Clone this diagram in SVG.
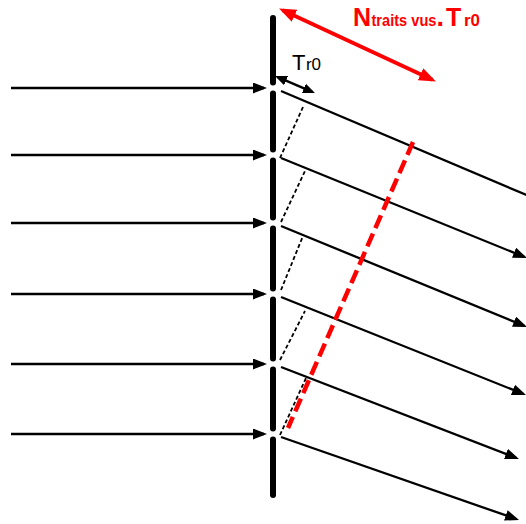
<svg xmlns="http://www.w3.org/2000/svg" width="526" height="524" viewBox="0 0 526 524">
<style>
.bar{stroke:#000;stroke-width:6;stroke-linecap:round;fill:none}
.ray{stroke:#000;stroke-width:2.3;fill:none;marker-end:url(#ah)}
.dash{stroke:#000;stroke-width:1.8;stroke-dasharray:4 2.5;fill:none}
.red{font-family:"Liberation Sans",Arial,sans-serif;font-weight:bold;fill:#ff0000}
.blk{font-family:"Liberation Sans",Arial,sans-serif;fill:#000}
</style>
<defs>
<marker id="ah" markerUnits="userSpaceOnUse" markerWidth="15" markerHeight="11" refX="11" refY="5.5" orient="auto">
<path d="M0,0 L14,5.5 L0,11 z" fill="#000"/>
</marker>
<marker id="ahs" markerUnits="userSpaceOnUse" markerWidth="13" markerHeight="10" refX="9" refY="5" orient="auto-start-reverse">
<path d="M0,0 L12,5 L0,10 z" fill="#000"/>
</marker>
<marker id="ahr" markerUnits="userSpaceOnUse" markerWidth="18" markerHeight="14" refX="13" refY="6.5" orient="auto-start-reverse">
<path d="M0,0 L17,6.5 L0,13 z" fill="#ff0000"/>
</marker>
</defs>
<rect width="526" height="524" fill="#fff"/>

<g id="screen">
<line class="bar" x1="273" y1="18" x2="273" y2="82.5"/>
<line class="bar" x1="273" y1="93.5" x2="273" y2="149.5"/>
<line class="bar" x1="273" y1="160.5" x2="273" y2="217.5"/>
<line class="bar" x1="273" y1="228.5" x2="273" y2="288.5"/>
<line class="bar" x1="273" y1="299.5" x2="273" y2="358.5"/>
<line class="bar" x1="273" y1="369.5" x2="273" y2="428.5"/>
<line class="bar" x1="273" y1="439.5" x2="273" y2="495"/>
</g>

<g id="connectors">
<line class="ray" x1="11" y1="88" x2="264" y2="88"/>
<line class="ray" x1="11" y1="155" x2="264" y2="155"/>
<line class="ray" x1="11" y1="223" x2="264" y2="223"/>
<line class="ray" x1="11" y1="294" x2="264" y2="294"/>
<line class="ray" x1="11" y1="364" x2="264" y2="364"/>
<line class="ray" x1="11" y1="434" x2="264" y2="434"/>

<line class="ray" x1="281" y1="91" x2="542" y2="201.6"/>
<line class="ray" x1="281" y1="158" x2="524.2" y2="256.9"/>
<line class="ray" x1="281" y1="226" x2="524.2" y2="325.9"/>
<line class="ray" x1="281" y1="297" x2="523.2" y2="393.9"/>
<line class="ray" x1="281" y1="367" x2="516.2" y2="457.9"/>
<line class="ray" x1="281" y1="437" x2="516.2" y2="519"/>

<line class="dash" x1="280" y1="158" x2="303" y2="107"/>
<line class="dash" x1="281" y1="222" x2="305" y2="171"/>
<line class="dash" x1="281" y1="290" x2="303" y2="236"/>
<line class="dash" x1="280" y1="360" x2="305" y2="311"/>
<line class="dash" x1="280" y1="435" x2="306" y2="378"/>

<line x1="413" y1="142" x2="288" y2="428" stroke="#ff0000" stroke-width="4.5" stroke-dasharray="14 6"/>

<line x1="282.7" y1="10.3" x2="432.3" y2="79.7" stroke="#ff0000" stroke-width="4" marker-start="url(#ahr)" marker-end="url(#ahr)"/>
<line x1="277.8" y1="77.2" x2="312.2" y2="91.8" stroke="#000" stroke-width="2.5" marker-start="url(#ahs)" marker-end="url(#ahs)"/>
</g>

<g id="label-tr0">
<text class="blk" x="292" y="70" font-size="22">T<tspan font-size="17" dx="0.5">r0</tspan></text>
</g>

<g id="label-ntraits">
<text class="red" x="353" y="26" font-size="25">N</text>
<text class="red" transform="translate(371.5,26) scale(0.86,1)" font-size="17">traits vus</text>
<text class="red" x="436.5" y="26" font-size="27">.</text>
<text class="red" x="446" y="26" font-size="25">T</text>
<text class="red" x="464" y="26" font-size="17">r0</text>
</g>
</svg>
